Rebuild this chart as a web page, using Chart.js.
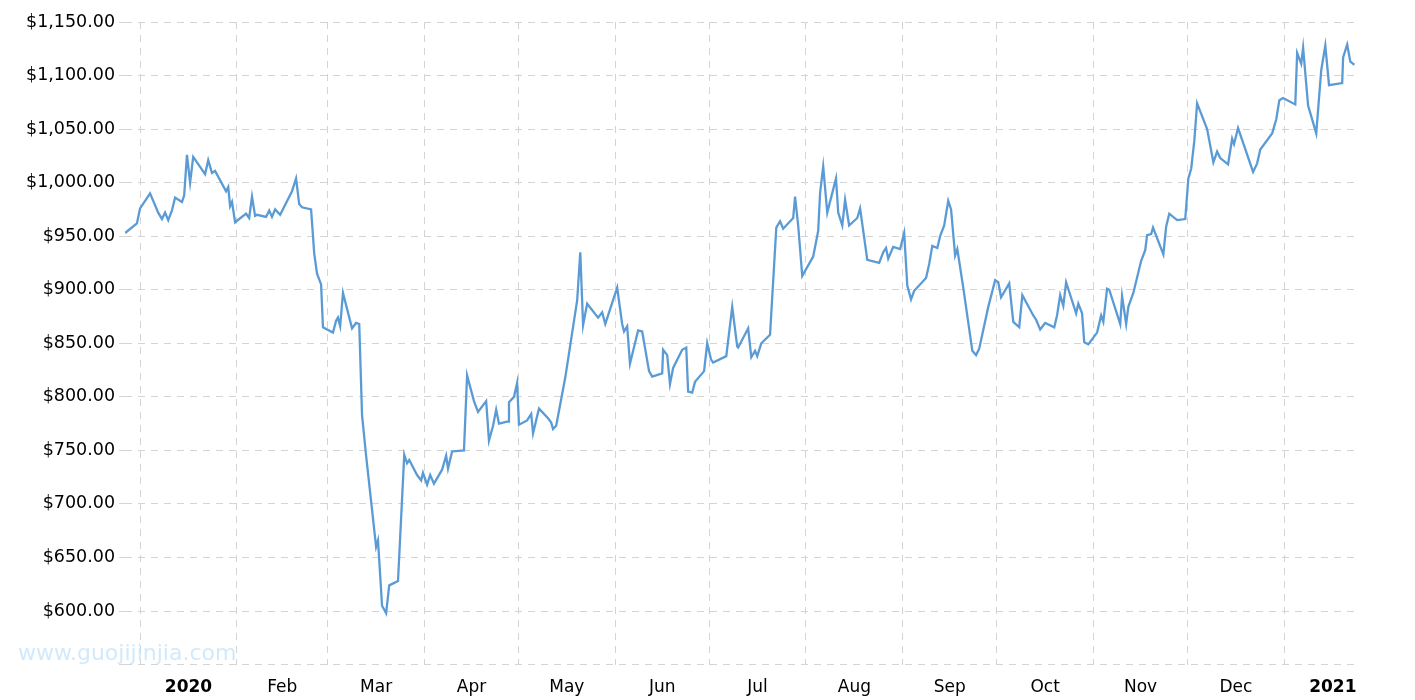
<!DOCTYPE html>
<html><head><meta charset="utf-8">
<script src="https://cdn.jsdelivr.net/npm/chart.js@4"></script>
<style>html,body{margin:0;padding:0;background:#fff}#wrap{width:1415px;height:700px}</style>
</head><body><div id="wrap"><canvas id="c" width="1415" height="700"></canvas></div>
<script>
// days since 2020-01-01
const days = [-4.8,-1.0,0,3.2,5.8,7.0,8.0,9.0,10.2,11.2,13.4,14.1,15.0,16.0,17.0,20.8,21.8,23.0,24.0,27.5,28.2,28.8,29.4,30.4,33.9,34.9,35.8,36.8,37.4,40.3,41.3,42.2,43.2,44.8,48.6,49.9,50.9,51.8,54.7,55.7,56.6,57.9,58.5,61.7,62.7,63.3,64.0,64.9,67.8,69.1,70.1,71.0,72.3,75.5,76.1,77.4,78.7,79.7,82.5,84.5,85.4,86.1,88.6,89.9,90.5,91.8,92.8,94.0,96.6,97.9,98.5,99.8,103.6,104.6,106.8,108.1,110.7,111.6,112.9,113.9,114.8,117.7,118.0,119.6,120.6,121.2,123.8,125.1,125.7,127.0,127.6,130.5,131.5,132.1,133.1,
136.0,139.8,140.8,141.7,143.0,146.5,147.8,148.8,149.7,152.6,154.2,154.8,155.8,156.7,159.3,160.6,162.8,163.8,167.0,167.3,168.6,169.5,170.5,173.4,174.7,175.3,176.6,177.5,180.4,181.4,182.6,183.3,187.5,189.4,191.0,191.3,194.5,195.5,196.7,197.4,198.7,201.5,203.5,204.7,205.7,208.9,209.5,210.5,211.8,215.3,216.9,217.5,218.5,219.8,222.6,223.3,224.6,225.5,226.8,229.4,230.3,232.6,236.4,237.7,238.6,239.3,240.9,243.1,244.4,245.4,246.6,247.6,251.4,252.4,253.4,255.0,255.9,
257.2,258.5,259.4,260.7,261.4,263.3,266.2,267.4,268.4,271.3,273.5,274.5,275.4,278.0,279.3,281.2,282.2,285.7,286.6,287.9,289.5,292.4,293.3,294.3,295.3,296.2,299.4,300.1,301.3,302.0,303.3,306.1,307.4,308.1,309.3,310.0,313.5,314.1,315.4,316.1,317.7,320.2,321.5,322.1,323.4,324.0,327.3,328.2,329.2,331.7,334.3,335.3,336.2,337.2,338.1,341.3,343.3,344.5,345.5,348.0,349.3,349.9,351.2,356.0,357.3,358.3,362.1,363.4,364.4,365.6,369.5,370.1,371.4,372.0,373.6,376.2,377.8,379.1,380.3,384.5,384.8,386.1,387.1,388.4];
const prices = [953,962,976,990,972,966,972,965,974,986,982,988,1026,1000,1024,1008,1021,1009,1011,992,996,978,982,963,971,967,987,969,970,968,974,968,975,970,992,1004,980,977,975,934,915,905,865,860,871,874,866,897,864,869,868,783,745,660,666,605,598,624,628,746,738,741,727,722,729,718,727,719,732,745,733,749,750,820,796,786,796,759,773,788,775,777,795,800,813,774,778,784,766,782,789,780,776,770,773,
818,890,935,867,887,874,879,868,876,902,868,861,866,831,862,861,824,819,822,844,839,812,827,844,846,805,804,814,824,850,835,832,838,884,847,846,864,837,843,838,850,858,958,964,957,967,987,960,913,931,955,990,1015,972,1004,972,960,984,960,967,976,928,925,935,939,929,940,938,953,904,891,899,911,924,941,939,950,
960,983,975,932,938,902,843,839,845,884,909,907,893,906,870,865,895,876,872,863,869,865,876,895,885,907,878,887,878,851,849,860,876,870,901,900,868,894,868,884,897,927,937,951,952,958,933,959,971,965,966,1004,1013,1039,1074,1050,1019,1029,1023,1017,1041,1036,1051,1010,1018,1031,1046,1059,1077,1079,1073,1121,1111,1126,1072,1046,1105,1128,1091,1093,1117,1129,1113,1110];
const monthStarts = [0,31,60,91,121,152,182,213,244,274,305,335,366];
const monthLabels = ['2020','Feb','Mar','Apr','May','Jun','Jul','Aug','Sep','Oct','Nov','Dec','2021'];
const yTicks = [550,600,650,700,750,800,850,900,950,1000,1050,1100,1150];

const points = days.map((d,i)=>({x:d,y:prices[i]}));
const fmt = v => '$' + v.toLocaleString('en-US',{minimumFractionDigits:2,maximumFractionDigits:2});
const labelAt = {};
monthStarts.forEach((m,i)=>{const next = i<monthStarts.length-1?monthStarts[i+1]:m+31; labelAt[((m+next)/2).toFixed(1)] = monthLabels[i];});

const watermark = {id:'wm', afterDraw(c){const x=c.ctx; x.save(); x.font='22px "DejaVu Sans"'; x.fillStyle='rgba(190,225,250,0.7)'; x.textBaseline='middle'; x.fillText('www.guojijinjia.com',18,654); x.restore();}};

new Chart(document.getElementById('c'),{
  type:'line',
  data:{datasets:[{data:points,borderColor:'#5b9bd5',borderWidth:2.3,pointRadius:0,tension:0,fill:false}]},
  options:{
    responsive:false,animation:false,
    layout:{padding:{left:22,right:60,top:22,bottom:0}},
    plugins:{legend:{display:false},tooltip:{enabled:false}},
    scales:{
      x:{type:'linear',min:-4.8,max:388.6,
        afterBuildTicks(ax){const t=[];monthStarts.forEach((m,i)=>{t.push({value:m});const next=i<monthStarts.length-1?monthStarts[i+1]:m+31;t.push({value:(m+next)/2});});ax.ticks=t;},
        grid:{color:ctx=>ctx.tick&&monthStarts.includes(ctx.tick.value)?'#d4d4d4':'rgba(0,0,0,0)',lineWidth:1,tickLength:11,tickColor:'rgba(0,0,0,0)',drawTicks:true},
        border:{display:false,dash:[7,6]},
        ticks:{autoSkip:false,maxRotation:0,padding:2,color:'#000',
          font:ctx=>{const l=labelAt[ctx.tick&&ctx.tick.value.toFixed(1)];return {family:'DejaVu Sans',size:17,weight:(l==='2020'||l==='2021')?'bold':'normal'};},
          callback:v=>labelAt[v.toFixed(1)]||''}
      },
      y:{min:550,max:1150,
        afterBuildTicks(ax){ax.ticks=yTicks.map(v=>({value:v}));},
        grid:{color:'#d4d4d4',lineWidth:1,tickLength:6},
        border:{display:false,dash:[7,6]},
        ticks:{color:'#000',padding:4,font:{family:'DejaVu Sans',size:17.5},callback:v=>v===550?'':fmt(v)}
      }
    }
  },
  plugins:[watermark]
});
</script></body></html>
